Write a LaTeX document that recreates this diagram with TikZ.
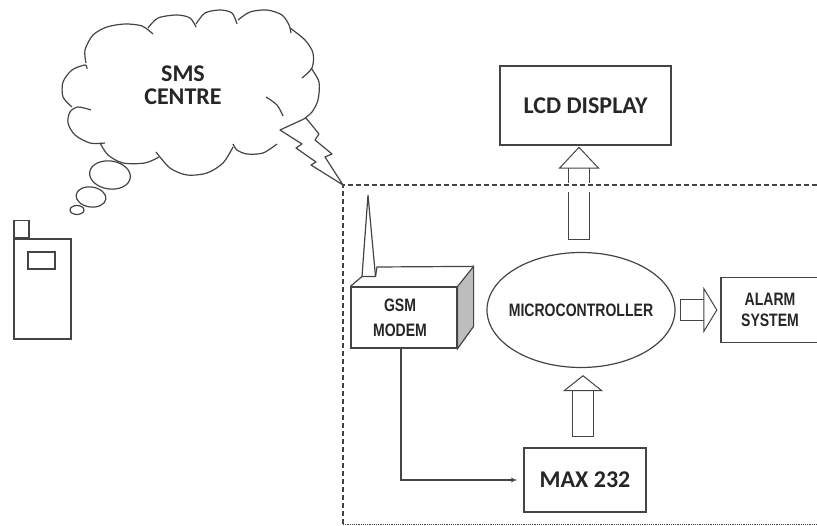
\documentclass[tikz,border=0pt]{standalone}
\usepackage{fontspec}
\setmainfont{Carlito}
\newfontfamily\narrowfont[FakeStretch=0.78]{Liberation Sans}
\usetikzlibrary{arrows,arrows.meta,shapes.geometric}
\definecolor{inkgray}{HTML}{444444}
\definecolor{sidegray}{HTML}{BDBDBD}
\begin{document}
\begin{tikzpicture}[x=1pt, y=-1pt, inkgray, line width=1.2pt]
        \tikzstyle{block} = [rectangle, draw, text=black!85, align=center, inner sep=0pt, font=\bfseries\fontsize{24}{28}\selectfont]
        \tikzstyle{narrow} = [text=black!85, align=center, font=\narrowfont\bfseries\fontsize{18}{21}\selectfont]
        \tikzstyle{outline} = [rectangle, draw, inner sep=0pt]
        \tikzstyle{puff} = [ellipse, draw, inner sep=0pt]
        \tikzstyle{line} = [draw, -latex']
        \tikzset{hollow/.style 2 args={draw, line width=1pt, double=white, double distance=20pt, arrows={Bar[width=22pt,line width=1pt]-Triangle[length=#1,width=#2,fill=white,line width=1pt]}}}
        \useasboundingbox (0,0) rectangle (817,526);

        \node [puff, inner xsep=-8pt, minimum width=188pt, minimum height=115pt, narrow] (mc) at (581,310) {MICROCONTROLLER};
        \node [block, above of=mc, node distance=204.5pt, xshift=4.5pt, minimum width=171pt, minimum height=79pt] (lcd) {LCD DISPLAY};
        \node [block, below of=mc, node distance=170pt, xshift=4pt, minimum width=122pt, minimum height=64pt] (max) {MAX 232};
        \node [outline, narrow, right of=mc, node distance=189pt, minimum width=98pt, minimum height=65pt, inner sep=0pt] (alarm) {ALARM\\SYSTEM};
        \node [outline, narrow, left of=mc, node distance=177pt, yshift=-7.5pt, minimum width=106pt, minimum height=61pt, inner sep=0pt] (gsm) {GSM\hspace*{8pt}\\[4pt]MODEM\hspace*{8pt}};

        % modem cabinet and aerial
        \filldraw [fill=sidegray] (gsm.north east) -- ++(16,-20) -- ++(0,60) -- (gsm.south east) -- cycle;
        \coordinate (aerialleft) at (362,276.5);
        \coordinate (aerialright) at (375.5,276.5);
        \coordinate (aerialtip) at (368,195);
        \draw (gsm.north west) -- (aerialleft) -- (aerialright) -- (aerialtip) -- (aerialleft);
        \draw (aerialright) -- (377,267) -- ([xshift=16pt,yshift=20pt]gsm.north east);

        \path [line] ([xshift=-3pt]gsm.south) |- ([xshift=-6pt]max.west);
        \path [hollow={22pt}{41pt}] ([xshift=-2pt,yshift=12pt]mc.north) -- ([xshift=-6.5pt,yshift=-1pt]lcd.south);
        \path [hollow={16pt}{40pt}] ([xshift=-2pt,yshift=10pt]max.north) -- ([xshift=2pt,yshift=-7pt]mc.south);
        \path [hollow={14pt}{46pt}] ([xshift=4pt]mc.east) -- ([xshift=-3pt]alarm.west);

        % dashed frame
        \node [fill=white, minimum width=24pt, minimum height=9pt, inner sep=0pt] (gap) at (579,188) {};
        \coordinate (frameright) at (817,185);
        \coordinate (framecorner) at (343,185);
        \coordinate (framefoot) at (343,526);
        \draw [dash pattern=on 5pt off 3pt] (frameright) -- (framecorner) -- (framefoot);
        \draw [densely dotted] (343,524.5) -- (817,524.5);

        % phone
        \node [outline, minimum width=57pt, minimum height=100pt] (phone) at (42.5,289) {};
        \node [outline, minimum width=15pt, minimum height=17pt, anchor=south west] (phonetop) at (phone.north west) {};
        \node [outline, minimum width=27pt, minimum height=17pt] (screen) at (41.5,260.5) {};

        % cloud
        \draw plot [smooth] coordinates {(105,143) (90,143) (75,135) (68,123) (70,112) (78,107) (91,110)};
        \draw plot [smooth] coordinates {(72,107) (63,97) (63,82) (72,70) (85,65) (87,69)};
        \draw plot [smooth] coordinates {(86,63) (85,50) (93,35) (107,27) (125,24) (142,26) (153,34)};
        \draw plot [smooth] coordinates {(148,28) (158,18) (177,15) (190,18) (196,27)};
        \draw plot [smooth] coordinates {(196,24) (205,13) (220,10) (232,13) (237,24)};
        \draw plot [smooth] coordinates {(238,20) (250,12) (267,10) (282,15) (289,25) (291,33)};
        \draw plot [smooth] coordinates {(290,28) (305,40) (313,53) (312,68) (302,78)};
        \draw plot [smooth] coordinates {(311,68) (319,82) (318,100) (312,112) (305,118)};
        \draw plot [smooth] coordinates {(266,97) (277,105) (283,116)};
        \draw plot [smooth] coordinates {(277,144) (263,153) (247,154) (237,150) (233,144)};
        \draw plot [smooth] coordinates {(233,147) (223,163) (207,173) (187,175) (170,168) (156,152)};
        \draw plot [smooth] coordinates {(159,157) (145,163) (123,163) (108,155) (100,143)};
        \node [text=black!85, align=center, font=\bfseries\fontsize{24}{23}\selectfont] (sms) at (183,85) {SMS\\CENTRE};

        \node [puff, minimum width=41pt, minimum height=28pt, rotate=-8] (bubblea) at (110,175) {};
        \node [puff, minimum width=30pt, minimum height=20pt, rotate=-8] (bubbleb) at (91,197) {};
        \node [puff, minimum width=14pt, minimum height=9pt] (bubblec) at (77,210) {};

        % lightning
        \draw [line join=round] (306,118) -- (280,130) -- (302,144) -- (296,148) -- (316,162) -- (311,165) -- (framecorner) -- (325,157) -- (332,154) -- (315,140) -- (319,134) -- cycle;
    \end{tikzpicture}
\end{document}
